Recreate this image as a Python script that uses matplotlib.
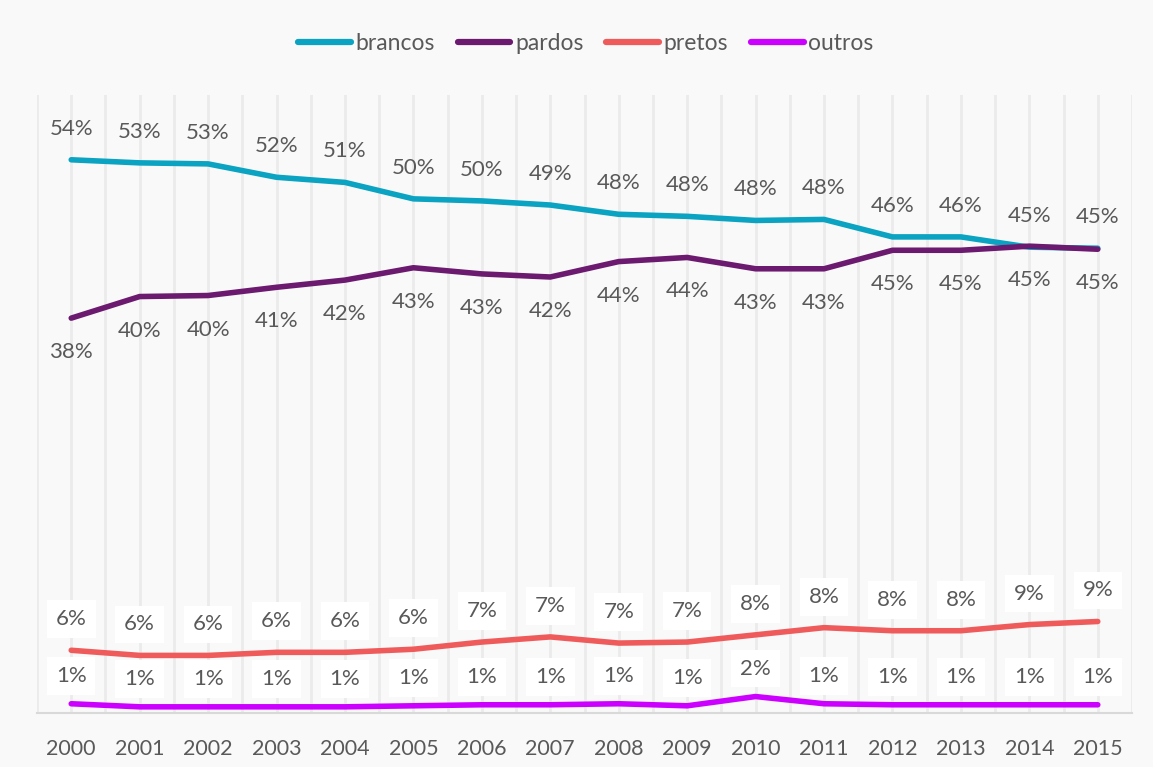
import numpy as np
import matplotlib.pyplot as plt
from matplotlib.lines import Line2D

years = [str(y) for y in range(2000, 2016)]
brancos = [53.8, 53.5, 53.4, 52.1, 51.6, 50.0, 49.8, 49.4, 48.5, 48.3, 47.9, 48.0, 46.3, 46.3, 45.3, 45.2]
pardos = [38.4, 40.5, 40.6, 41.4, 42.1, 43.3, 42.7, 42.4, 43.9, 44.3, 43.2, 43.2, 45.0, 45.0, 45.4, 45.1]
pretos = [6.1, 5.6, 5.6, 5.9, 5.9, 6.2, 6.9, 7.4, 6.8, 6.9, 7.6, 8.3, 8.0, 8.0, 8.6, 8.9]
outros = [0.9, 0.6, 0.6, 0.6, 0.6, 0.7, 0.8, 0.8, 0.9, 0.7, 1.6, 0.9, 0.8, 0.8, 0.8, 0.8]

brancos_lbl = [54, 53, 53, 52, 51, 50, 50, 49, 48, 48, 48, 48, 46, 46, 45, 45]
pardos_lbl = [38, 40, 40, 41, 42, 43, 43, 42, 44, 44, 43, 43, 45, 45, 45, 45]
pretos_lbl = [6, 6, 6, 6, 6, 6, 7, 7, 7, 7, 8, 8, 8, 8, 9, 9]
outros_lbl = [1, 1, 1, 1, 1, 1, 1, 1, 1, 1, 2, 1, 1, 1, 1, 1]

series = [
    ("brancos", brancos, brancos_lbl, "#0aa3c2", 31, False),
    ("pardos", pardos, pardos_lbl, "#6c1a6f", -34, False),
    ("pretos", pretos, pretos_lbl, "#ef5b5b", 31, True),
    ("outros", outros, outros_lbl, "#cc00ff", 28, True),
]

txt_color = "#595959"
plt.rcParams['font.family'] = ['Lato', 'DejaVu Sans']

fig = plt.figure(figsize=(11.53, 7.67), dpi=100)
fig.patch.set_facecolor("#f9f9f9")
ax = fig.add_axes([37/1153, 1-713/767, (1132-37)/1153, (713-95)/767])
ax.set_facecolor("#f9f9f9")

x = np.arange(len(years))
ax.set_xlim(-0.5, len(years) - 0.5)
ax.set_ylim(0, 60.1)

# vertical gridlines at each year and between years
for gx in np.arange(-0.5, len(years), 0.5):
    ax.axvline(gx, color="#ebebeb", linewidth=2, zorder=0)

for name, vals, lbls, col, off, box in series:
    ax.plot(x, vals, color=col, linewidth=4, solid_capstyle='round', solid_joinstyle='round', zorder=3)
    for xi, v, l in zip(x, vals, lbls):
        kw = dict(ha='center', va='center', fontsize=16, color=txt_color, zorder=4,
                  textcoords='offset pixels', xytext=(0, off))
        if box:
            kw['bbox'] = dict(boxstyle='square,pad=0.4', facecolor='white', edgecolor='none')
        ax.annotate(f"{l}%", (xi, v), **kw)

for s in ['top', 'right', 'left']:
    ax.spines[s].set_visible(False)
ax.spines['bottom'].set_color("#d9d9d9")
ax.spines['bottom'].set_linewidth(1.5)
ax.set_yticks([])
ax.set_xticks(x)
ax.set_xticklabels(years, fontsize=15.5, color=txt_color)
ax.tick_params(axis='x', length=0, pad=19)

handles = [Line2D([0], [0], color=c, linewidth=4.5, solid_capstyle='round') for _, _, _, c, _, _ in series]
fig.legend(handles, [s[0] for s in series], loc='center', bbox_to_anchor=(0.508, 1-44/767),
           ncol=4, frameon=False, fontsize=16.5, handlelength=2.3, handletextpad=0.2,
           columnspacing=1.0, labelcolor=txt_color)

fig.savefig("out.png", dpi=100, facecolor=fig.get_facecolor())
